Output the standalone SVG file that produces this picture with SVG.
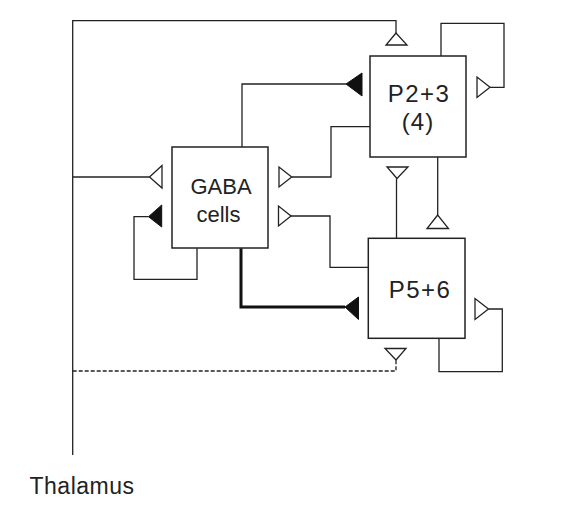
<svg xmlns="http://www.w3.org/2000/svg" width="576" height="527" viewBox="0 0 576 527">
<style>
.box{fill:#fff;stroke:#222;stroke-width:1.5}
.ln{fill:none;stroke:#222;stroke-width:1.3}
.thick{fill:none;stroke:#111;stroke-width:3}
.dash{fill:none;stroke:#222;stroke-width:1.3;stroke-dasharray:4 2}
.open{fill:#fff;stroke:#222;stroke-width:1.3}
.fill{fill:#111;stroke:#111;stroke-width:1}
text{font-family:"Liberation Sans",Arial,sans-serif;fill:#222;text-anchor:middle}
</style>
<rect width="576" height="527" fill="#fff"/>
<g id="connectors">
<path class="ln" d="M72.7,455 V20.7 H396 V33"/>
<path class="ln" d="M72.7,177 H149.5"/>
<path class="dash" d="M72.7,371 H396 V360"/>
<path class="ln" d="M441,56 V23.3 H504 V87.3 H490"/>
<path class="ln" d="M242,147 V84 H346"/>
<path class="ln" d="M370,126.7 H331 V177 H291.7"/>
<path class="ln" d="M396.5,238.3 V178.5"/>
<path class="ln" d="M437.7,156.7 V215"/>
<path class="ln" d="M197,248.3 V279.3 H134 V216.7 H148.5"/>
<path class="ln" d="M368.3,267.3 H330 V216 H291"/>
<path class="thick" d="M241,248.3 V307 H345"/>
<path class="ln" d="M439,338.3 V371.7 H502.3 V309 H488.5"/>
<polygon class="open" points="396,33 386,45 407,45"/>
<polygon class="open" points="490,87.3 477,77 477,97.5"/>
<polygon class="fill" points="346,84 362,73 362,96"/>
<polygon class="open" points="291.7,177 279,167 279,187"/>
<polygon class="open" points="149.5,177 162,165.5 162,188"/>
<polygon class="open" points="397,178.5 387,167 408,167"/>
<polygon class="open" points="437.7,215 427,228.5 448.5,228.5"/>
<polygon class="fill" points="148.5,216.7 161.7,205 161.7,227"/>
<polygon class="open" points="291,216 278.5,206 278.5,226"/>
<polygon class="fill" points="345,307 358.5,297 358.5,319.5"/>
<polygon class="open" points="488.5,309 475,298.5 475,319.5"/>
<polygon class="open" points="396,360 385,348.5 406,348.5"/>
</g>
<g id="gaba">
<rect class="box" x="172" y="147" width="96" height="101"/>
<text x="221" y="193.5" font-size="22">GABA</text>
<text x="218.5" y="222" font-size="22">cells</text>
</g>
<g id="p23">
<rect class="box" x="370" y="56" width="96" height="101"/>
<text x="419" y="101.7" font-size="24" letter-spacing="1.5">P2+3</text>
<text x="418" y="130" font-size="24" letter-spacing="1">(4)</text>
</g>
<g id="p56">
<rect class="box" x="368.3" y="238.3" width="96.7" height="100"/>
<text x="420" y="298.3" font-size="24" letter-spacing="1.5">P5+6</text>
</g>
<g id="thalamus">
<text x="82" y="494" font-size="23" letter-spacing="0.5">Thalamus</text>
</g>
</svg>
